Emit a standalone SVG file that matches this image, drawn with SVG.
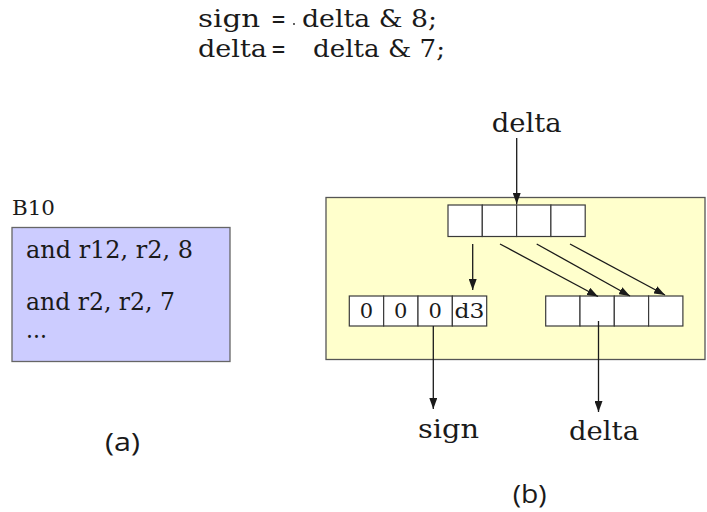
<svg xmlns="http://www.w3.org/2000/svg" width="707" height="512" viewBox="0 0 707 512">
  <style>
    .serif { font-family: "DejaVu Serif", "Liberation Serif", serif; fill: #1a1a1a; }
    .sans { font-family: "Open Sans", "Liberation Sans", sans-serif; fill: #1a1a1a; }
    .cell { fill: #ffffff; stroke: #3a3a3a; stroke-width: 1.2; }
    .wire { stroke: #1a1a1a; stroke-width: 1.3; fill: none; marker-end: url(#arrow); }
  </style>
  <defs>
    <marker id="arrow" markerUnits="userSpaceOnUse" markerWidth="11" markerHeight="8" refX="11" refY="4" orient="auto">
      <path d="M0,0 L11,4 L0,8 z" fill="#1a1a1a"/>
    </marker>
  </defs>
  <rect width="707" height="512" fill="#ffffff"/>

  <!-- source statements -->
  <g id="code">
    <text class="serif" font-size="25" x="198" y="27" textLength="62" lengthAdjust="spacingAndGlyphs">sign</text>
    <text class="serif" font-size="25" x="271" y="27" textLength="15" lengthAdjust="spacingAndGlyphs">=</text>
    <circle cx="294" cy="24" r="0.9" fill="#1a1a1a"/>
    <text class="serif" font-size="25" x="302" y="27" textLength="135" lengthAdjust="spacingAndGlyphs">delta &amp; 8;</text>
    <text class="serif" font-size="25" x="198" y="57" textLength="69" lengthAdjust="spacingAndGlyphs">delta</text>
    <text class="serif" font-size="25" x="271" y="57" textLength="15" lengthAdjust="spacingAndGlyphs">=</text>
    <text class="serif" font-size="25" x="313" y="57" textLength="132" lengthAdjust="spacingAndGlyphs">delta &amp; 7;</text>
  </g>

  <!-- (a) basic block B10 -->
  <g id="block-b10">
    <text class="serif" font-size="21" x="12" y="215" textLength="43" lengthAdjust="spacingAndGlyphs">B10</text>
    <rect x="12" y="227.5" width="218" height="134" fill="#ccccff" stroke="#666666" stroke-width="1.3"/>
    <text class="serif" font-size="24" x="26" y="258" textLength="167" lengthAdjust="spacingAndGlyphs">and r12, r2, 8</text>
    <text class="serif" font-size="24" x="26" y="310" textLength="149" lengthAdjust="spacingAndGlyphs">and r2, r2, 7</text>
    <text class="serif" font-size="24" x="26" y="338" textLength="21" lengthAdjust="spacingAndGlyphs">...</text>
  </g>
  <g id="label-a">
    <text class="sans" font-size="25" x="105" y="451" textLength="35" lengthAdjust="spacingAndGlyphs">(a)</text>
  </g>

  <!-- (b) bit manipulation -->
  <g id="frame">
    <rect x="326" y="197.5" width="379" height="162" fill="#ffffcc" stroke="#555555" stroke-width="1.3"/>
  </g>

  <g id="delta-in">
    <rect class="cell" x="448" y="205" width="34.3" height="31.5"/>
    <rect class="cell" x="482.3" y="205" width="34.3" height="31.5"/>
    <rect class="cell" x="516.6" y="205" width="34.3" height="31.5"/>
    <rect class="cell" x="550.9" y="205" width="34.3" height="31.5"/>
  </g>

  <g id="sign-reg">
    <rect class="cell" x="349.3" y="296" width="34.35" height="30"/>
    <rect class="cell" x="383.65" y="296" width="34.35" height="30"/>
    <rect class="cell" x="418" y="296" width="34.35" height="30"/>
    <rect class="cell" x="452.35" y="296" width="34.35" height="30"/>
    <text class="serif" font-size="21" x="366.5" y="317.5" text-anchor="middle">0</text>
    <text class="serif" font-size="21" x="400.8" y="317.5" text-anchor="middle">0</text>
    <text class="serif" font-size="21" x="435.2" y="317.5" text-anchor="middle">0</text>
    <text class="serif" font-size="21" x="469.5" y="317.5" text-anchor="middle" textLength="30" lengthAdjust="spacingAndGlyphs">d3</text>
  </g>

  <g id="delta-reg">
    <rect class="cell" x="545.7" y="296" width="34.3" height="30"/>
    <rect class="cell" x="580" y="296" width="34.3" height="30"/>
    <rect class="cell" x="614.3" y="296" width="34.3" height="30"/>
    <rect class="cell" x="648.6" y="296" width="34.3" height="30"/>
  </g>

  <g id="label-delta-in">
    <text class="serif" font-size="26" x="491.7" y="131.7" textLength="70" lengthAdjust="spacingAndGlyphs">delta</text>
  </g>
  <g id="label-sign-out">
    <text class="serif" font-size="26" x="418" y="438.3" textLength="61" lengthAdjust="spacingAndGlyphs">sign</text>
  </g>
  <g id="label-delta-out">
    <text class="serif" font-size="26" x="569" y="440" textLength="70" lengthAdjust="spacingAndGlyphs">delta</text>
  </g>
  <g id="label-b">
    <text class="sans" font-size="25" x="512.7" y="503" textLength="34" lengthAdjust="spacingAndGlyphs">(b)</text>
  </g>

  <!-- connectors -->
  <g id="connectors">
    <line class="wire" x1="516.7" y1="138" x2="516.7" y2="204"/>
    <line class="wire" x1="472.7" y1="244" x2="472.7" y2="290"/>
    <line class="wire" x1="500" y1="244" x2="598" y2="296.5"/>
    <line class="wire" x1="536.7" y1="244" x2="630" y2="296"/>
    <line class="wire" x1="570" y1="244" x2="665" y2="295"/>
    <line class="wire" x1="433.3" y1="326" x2="433.3" y2="409"/>
    <line class="wire" x1="598.5" y1="321" x2="598.5" y2="412"/>
  </g>
</svg>
